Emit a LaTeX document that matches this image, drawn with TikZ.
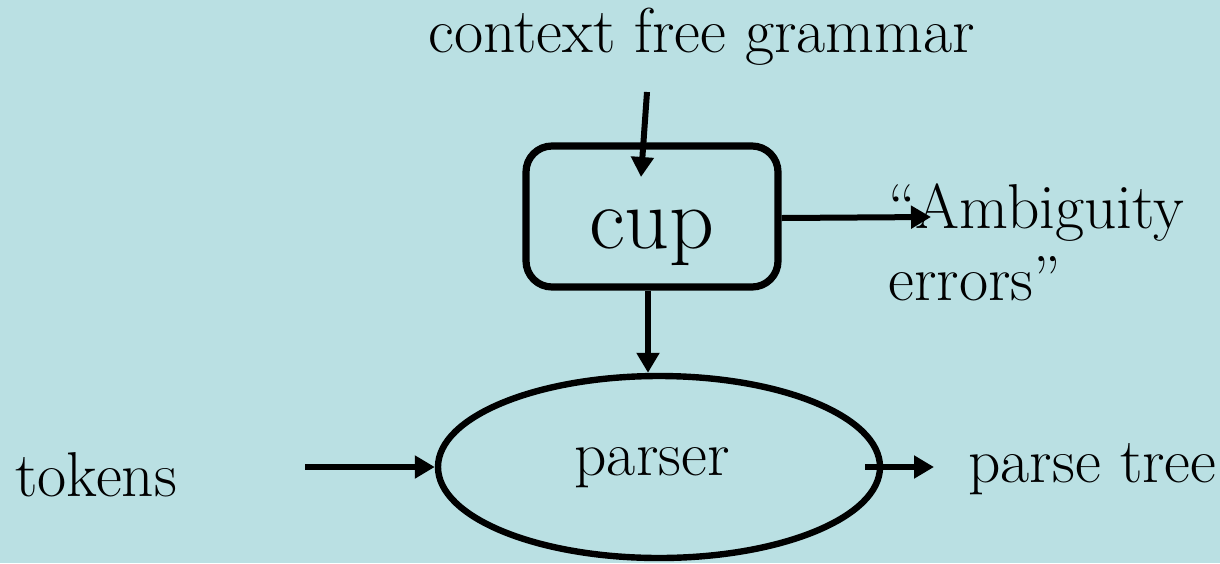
\documentclass[tikz,border=0pt]{standalone}
\usepackage{fontspec}
\usetikzlibrary{shapes.geometric,arrows.meta}
\definecolor{slidebg}{RGB}{186,224,227}
\tikzset{
  label/.style={inner sep=0pt, font=\fontsize{31.7}{36}\selectfont},
  tool/.style={draw, line width=3.6pt, rounded corners=13pt, minimum width=126pt,
               minimum height=70.5pt, inner sep=0pt, text height=51.25pt, text depth=19.25pt,
               font=\fontsize{44}{50}\selectfont},
  stage/.style={draw, ellipse, line width=3.2pt, minimum width=221pt, minimum height=91pt,
                inner sep=0pt},
  flow/.style={line width=3pt, -{Triangle[length=10pt,width=11pt]}}
}
\begin{document}
\begin{tikzpicture}[x=0.5pt, y=-0.5pt]
  \fill[slidebg] (0,0) rectangle (1220,563);
  \useasboundingbox (0,0) rectangle (1220,563);

  % inputs and outputs
  \node[label, anchor=base] (cfg) at (702,52) {context free grammar};
  \node[label, anchor=base west] (tokens) at (15,496) {tokens};
  \node[label, anchor=base west] (tree) at (968,482) {parse tree};
  \node[label, anchor=base west] (amb1) at (888,228) {“Ambiguity};
  \node[label, anchor=base west] (amb2) at (888,300) {errors”};

  % the parser generator and the generated parser
  \node[tool] (cup) at (652,216.5) {cup};
  \node[stage] (parser) at (659,467) {};
  \node[label, anchor=base] (plabel) at (652,475) {parser};

  % arrow end points
  \coordinate (gtop) at (647,92);
  \coordinate (gend) at (641,177);
  \coordinate (ambend) at (931,217);
  \coordinate (tokstart) at (305,467);
  \coordinate (outstart) at (865,467);
  \coordinate (outend) at (934,467);

  \draw[flow] (gtop) -- (gend);
  \draw[flow] (cup.east |- 0,218) -- (ambend);
  \draw[flow] (cup.south -| 648,0) -- (parser.north -| 648,0);
  \draw[flow] (tokstart) -- (parser.west);
  \draw[flow] (outstart) -- (outend);
\end{tikzpicture}
\end{document}
